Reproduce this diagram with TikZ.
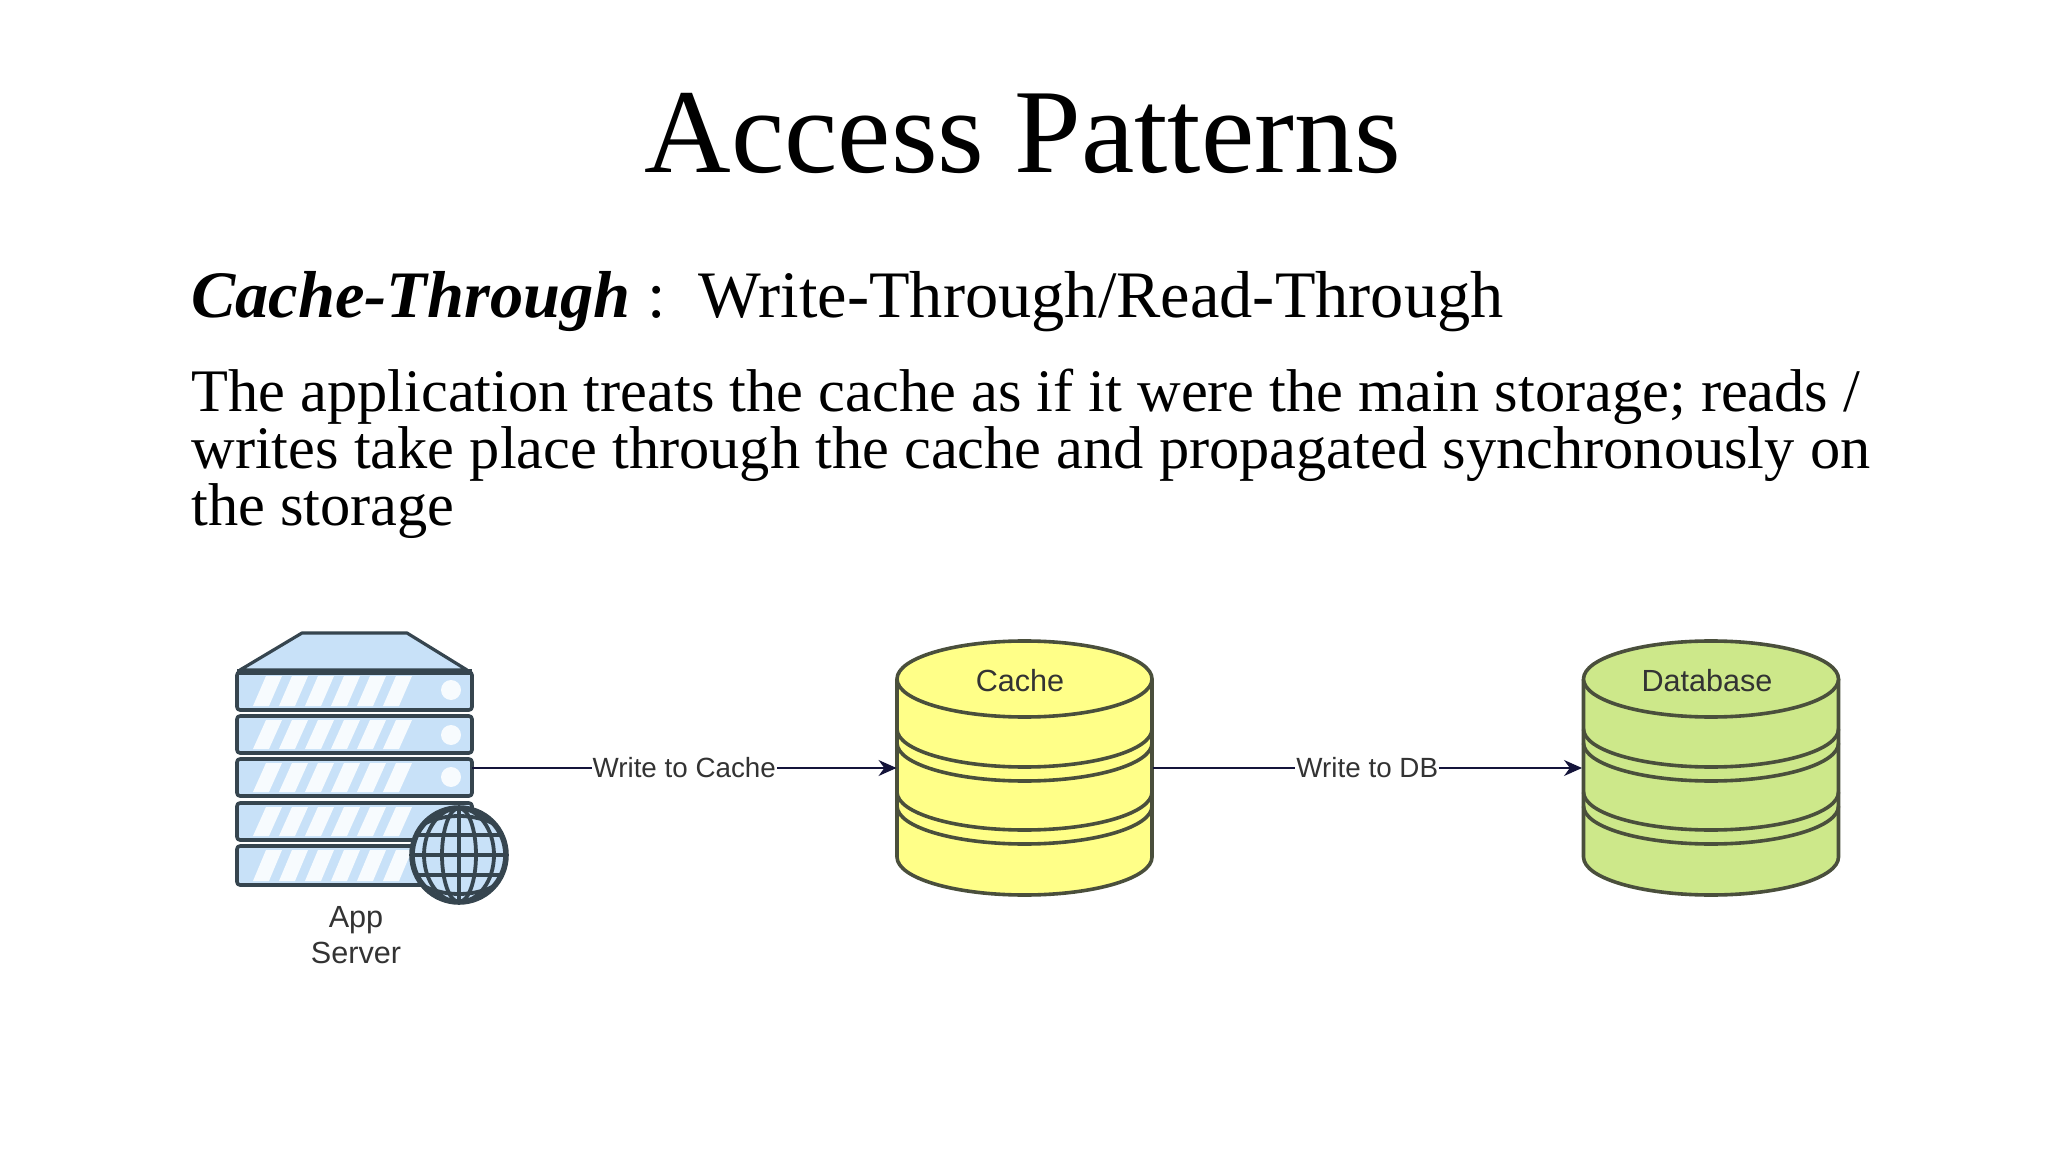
\documentclass[tikz,border=0pt]{standalone}
\usepackage{fontspec}
\usetikzlibrary{arrows.meta}
\setmainfont{Liberation Serif}
\setsansfont{Liberation Sans}
\definecolor{rackblue}{HTML}{C8E1F8}
\definecolor{rackline}{HTML}{36454F}
\definecolor{stripe}{HTML}{F7FBFE}
\definecolor{cacheyellow}{HTML}{FFFF88}
\definecolor{dbgreen}{HTML}{CDE88A}
\definecolor{drumline}{HTML}{4A4F3C}
\definecolor{arrowink}{HTML}{14143A}
\tikzset{
	label text/.style={font=\sffamily\fontsize{15.3}{17}\selectfont, text=black!80, inner sep=0.5pt, outer sep=0pt},
	link text/.style={label text, font=\sffamily\fontsize{13.9}{17}\selectfont, fill=white},
	anchor box/.style={minimum width=#1, minimum height=117pt, inner sep=0pt, outer sep=0pt},
	drum/.style={draw=drumline, line width=1.8pt, fill=#1},
	rack/.style={draw=rackline, line width=1.8pt, rounded corners=1.5pt, fill=rackblue},
	globe line/.style={rackline, line width=1.9pt}
}
\newcommand{\drawdrum}[2]{
	\draw[drum=#2] (#1-127.5,473)--(#1-127.5,295) arc[start angle=180,end angle=360,x radius=127.5,y radius=38]--(#1+127.5,473);
	\foreach \y in {423,409,360,346}
	\draw[drumline, line width=1.8pt] (#1-127.5,\y) arc[start angle=180,end angle=360,x radius=127.5,y radius=38];
	\draw[drum=#2] (#1,473) ellipse [x radius=127.5,y radius=38];
}
\begin{document}
\begin{tikzpicture}[x=0.5pt, y=0.5pt, line join=round, >={Stealth[length=9pt,width=8pt]}]
	\useasboundingbox (0,0) rectangle (2048,1152);
	\node (title) at (1023,1019) {\fontsize{60}{70}\selectfont Access Patterns};
	\node[anchor=base west, inner sep=0pt] (subtitle) at (191,834) {\fontsize{33.2}{36}\selectfont \textbf{\textit{Cache-Through}} :\ \ Write-Through/Read-Through};
	\node[anchor=north west, align=left, inner sep=0pt, font=\fontsize{30.2}{28.5}\selectfont] (body) at (191,783) {The application treats the cache as if it were the main storage; reads /\\
		writes take place through the cache and propagated synchronously on\\
		the storage};
	\draw[rack, line width=1.6pt, rounded corners=0pt] (302,519)--(407,519)--(467,482)--(240,482)--cycle;
	\foreach \rowtop/\rowbot in {480/442,436/399,393/356,349/312,306/267} {
		\draw[rack] (237,\rowbot) rectangle (472,\rowtop);
		\foreach \k in {0,...,5}
		\fill[stripe] (253+26*\k,\rowbot+4)--(269+26*\k,\rowbot+4)--(282+26*\k,\rowtop-4)--(266+26*\k,\rowtop-4)--cycle;
	}
	\draw[rackline, line width=2.8pt] (237,480)--(472,480);
	\foreach \y in {462,417,375}
	\fill[stripe] (451,\y) circle (10);
	\begin{scope}[shift={(459,297)}]
		\fill[rackblue] (0,0) circle (47);
		\begin{scope}
			\clip (0,0) circle (47);
			\draw[globe line] (0,-47)--(0,47);
			\draw[globe line] (0,0) ellipse [x radius=17,y radius=47];
			\draw[globe line] (0,0) ellipse [x radius=35,y radius=47];
			\draw[globe line] (-47,0)--(47,0);
			\draw[globe line] (-47,20)--(47,20);
			\draw[globe line] (-47,-20)--(47,-20);
			\draw[globe line] (-47,24) .. controls (-20,44) and (20,44) .. (47,24);
			\draw[globe line] (-47,-24) .. controls (-20,-44) and (20,-44) .. (47,-24);
		\end{scope}
		\draw[rackline, line width=2.8pt] (0,0) circle (47);
	\end{scope}
	\drawdrum{1024.5}{cacheyellow}
	\drawdrum{1711}{dbgreen}
	\node[anchor box=117.5pt] (server) at (354.5,384) {};
	\node[anchor box=128pt] (cache) at (1024.5,384) {};
	\node[anchor box=129pt] (database) at (1711,384) {};
	\node[label text] (applabel) at (356,232) {App};
	\node[label text] (serverlabel) at (356,199) {Server};
	\node[label text] (cachelabel) at (1020,471) {Cache};
	\node[label text] (dblabel) at (1707,471) {Database};
	\draw[->, arrowink, line width=0.6pt] (server)--node[link text] (writecache) {Write to Cache} (cache);
	\draw[->, arrowink, line width=0.6pt] (cache)--node[link text] (writedb) {Write to DB} (database);
\end{tikzpicture}
\end{document}
